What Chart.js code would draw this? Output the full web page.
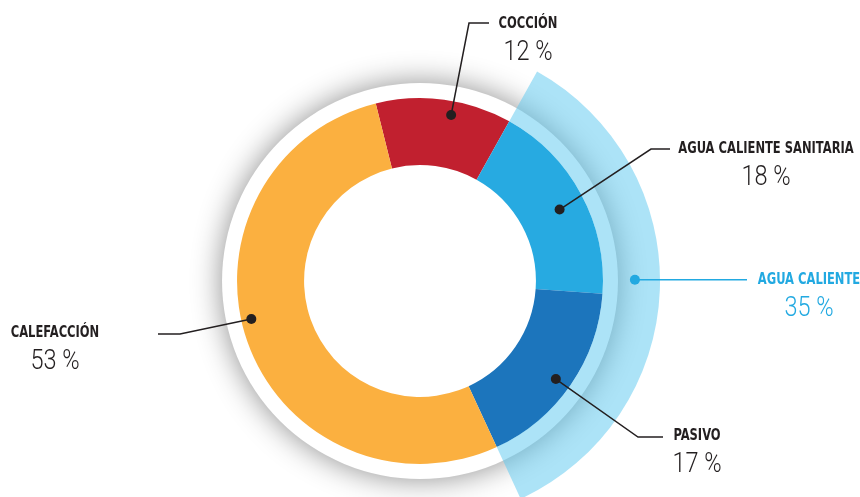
<!DOCTYPE html>
<html>
<head>
<meta charset="utf-8">
<script src="https://cdn.jsdelivr.net/npm/chart.js@4.4.1/dist/chart.umd.min.js"></script>
<style>
html, body { margin: 0; padding: 0; background: #fff; }
#wrap { width: 860px; height: 497px; position: relative; }
</style>
</head>
<body>
<div id="wrap"><canvas id="myDoughnut"></canvas></div>
<script>
// Data
var categories = ['COCCIÓN', 'AGUA CALIENTE SANITARIA', 'PASIVO', 'CALEFACCIÓN'];
var values = [12, 18, 17, 53];
var colors = ['#c1202f', '#27aae1', '#1c75bc', '#fbb040'];

// Outer group: agua caliente = sanitaria + pasivo
var groupLabel = 'AGUA CALIENTE';
var groupValue = 35;
var groupColor = 'rgba(90, 200, 240, 0.5)';

// outer ring: empty piece, group, empty piece
var outerValues = [values[0], groupValue, values[3]];

var textDark = '#231f20';
var textBlue = '#22a9e1';

// Where each callout goes (dot position inside its arc, elbow, text centre)
var callouts = [
    { ds: 1, i: 0, along: 0.57, across: 0.79, elbow: [469, 23], end: [489, 23], text: [528, 24], label: categories[0], value: values[0], color: textDark },
    { ds: 1, i: 1, along: 0.52, across: 0.61, elbow: [651, 149], end: [670, 149], text: [766, 149], label: categories[1], value: values[1], color: textDark },
    { ds: 1, i: 2, along: 0.52, across: 0.77, elbow: [638, 437], end: [663, 437], text: [697, 436], label: categories[2], value: values[2], color: textDark },
    { ds: 1, i: 3, along: 0.535, across: 0.85, elbow: [180, 334], end: [158, 334], text: [55, 333], label: categories[3], value: values[3], color: textDark },
    { ds: 0, i: 1, along: 0.48, across: 0.56, elbow: null, end: [747, null], text: [809, 280], label: groupLabel, value: groupValue, color: textBlue }
];

function pointOnArc(arc, along, across) {
    var p = arc.getProps(['x', 'y', 'startAngle', 'endAngle', 'innerRadius', 'outerRadius'], true);
    var a = p.startAngle + (p.endAngle - p.startAngle) * along;
    var r = p.innerRadius + (p.outerRadius - p.innerRadius) * across;
    return [p.x + Math.cos(a) * r, p.y + Math.sin(a) * r];
}

// condensed text: squeeze horizontally around its centre
function squeezedText(ctx, str, x, y, sx) {
    ctx.save();
    ctx.translate(x, y);
    ctx.scale(sx, 1);
    ctx.fillText(str, 0, 0);
    ctx.restore();
}

// white ring with soft shadow behind the coloured ring
var ringShadow = {
    id: 'ringShadow',
    beforeDatasetsDraw: function(chart) {
        var arc = chart.getDatasetMeta(1).data[0];
        var ctx = chart.ctx;
        ctx.save();
        ctx.beginPath();
        ctx.arc(arc.x, arc.y, arc.outerRadius + 15, 0, Math.PI * 2);
        ctx.fillStyle = '#fff';
        ctx.shadowColor = 'rgba(0, 0, 0, 0.45)';
        ctx.shadowBlur = 30;
        ctx.fill();
        ctx.restore();
    }
};

// leader lines, dots and texts
var calloutLabels = {
    id: 'calloutLabels',
    afterDatasetsDraw: function(chart) {
        var ctx = chart.ctx;
        ctx.save();
        callouts.forEach(function(c) {
            var arc = chart.getDatasetMeta(c.ds).data[c.i];
            var dot = pointOnArc(arc, c.along, c.across);
            var endY = c.end[1] === null ? dot[1] : c.end[1];
            ctx.strokeStyle = c.color;
            ctx.fillStyle = c.color;
            ctx.lineWidth = 1.5;
            ctx.beginPath();
            ctx.moveTo(dot[0], dot[1]);
            if (c.elbow) ctx.lineTo(c.elbow[0], c.elbow[1]);
            ctx.lineTo(c.end[0], endY);
            ctx.stroke();
            ctx.beginPath();
            ctx.arc(dot[0], dot[1], 5, 0, Math.PI * 2);
            ctx.fill();

            ctx.textAlign = 'center';
            ctx.textBaseline = 'middle';
            ctx.font = 'bold 16px "DejaVu Sans Condensed", "DejaVu Sans", sans-serif';
            squeezedText(ctx, c.label, c.text[0], c.text[1], 0.8);
            ctx.font = '300 28px Roboto, "DejaVu Sans Condensed", sans-serif';
            squeezedText(ctx, c.value + ' %', c.text[0], c.text[1] + 29, 0.84);
        });
        ctx.restore();
    }
};

var ctx = document.getElementById('myDoughnut').getContext('2d');
var myDoughnut = new Chart(ctx, {
    type: 'doughnut',
    data: {
        labels: categories,
        datasets: [{
            label: groupLabel,
            data: outerValues,
            backgroundColor: ['rgba(0,0,0,0)', groupColor, 'rgba(0,0,0,0)'],
            borderWidth: 0,
            weight: 57
        }, {
            label: 'Consumo',
            data: values,
            backgroundColor: colors,
            borderWidth: 0,
            weight: 67
        }]
    },
    options: {
        responsive: true,
        maintainAspectRatio: false,
        animation: false,
        events: [],
        rotation: -14,
        radius: 240,
        cutout: '48.3%',
        layout: { padding: { top: 65, right: 20, bottom: 0, left: 0 } },
        plugins: {
            legend: { display: false },
            tooltip: { enabled: false }
        }
    },
    plugins: [ringShadow, calloutLabels]
});
</script>
</body>
</html>
